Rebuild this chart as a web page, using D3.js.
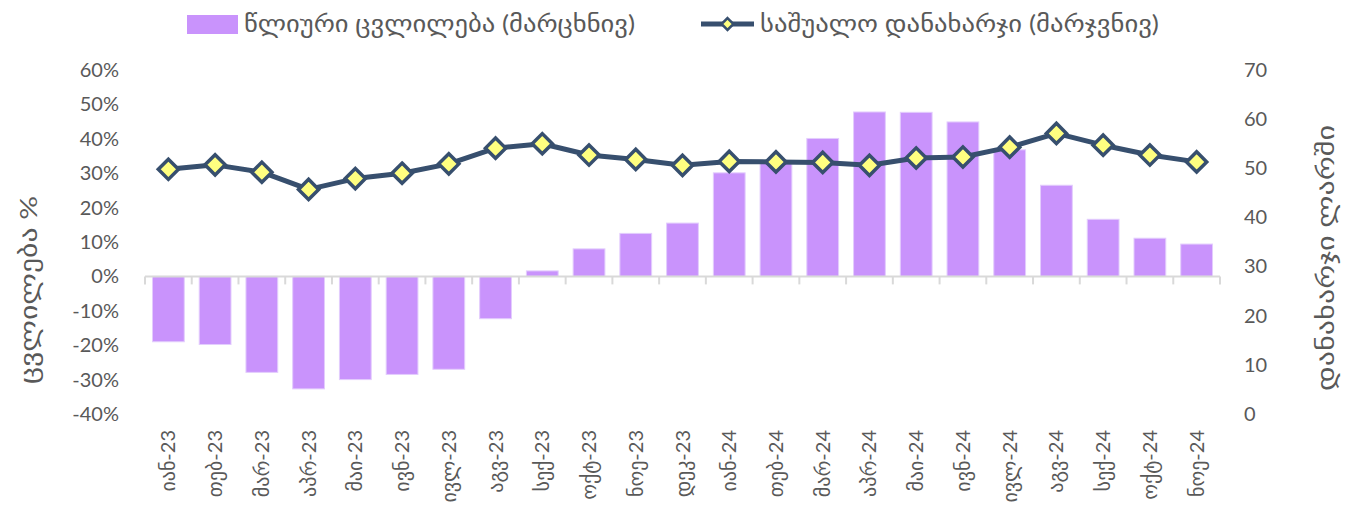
<!DOCTYPE html>
<html><head><meta charset="utf-8">
<script src="https://cdn.jsdelivr.net/npm/d3@7"></script>
<style>body{margin:0;background:#fff;}svg{display:block;}</style>
</head><body><svg id="c" width="1346" height="527"></svg>
<script>
const categories = ["იან-23","თებ-23","მარ-23","აპრ-23","მაი-23","ივნ-23","ივლ-23","აგვ-23","სექ-23","ოქტ-23","ნოე-23","დეკ-23",
  "იან-24","თებ-24","მარ-24","აპრ-24","მაი-24","ივნ-24","ივლ-24","აგვ-24","სექ-24","ოქტ-24","ნოე-24"];
const changePct = [-19.0,-19.8,-27.9,-32.7,-30.0,-28.5,-27.0,-12.3,1.6,8.0,12.5,15.5,
  30.1,33.5,40.1,47.8,47.7,44.9,36.8,26.5,16.6,11.1,9.4];
const avgSpend = [49.8,50.7,49.2,45.7,47.9,49.0,50.9,54.1,55.0,52.7,51.8,50.6,
  51.4,51.3,51.2,50.6,52.1,52.3,54.3,57.1,54.7,52.7,51.3];
const leftTicks = [-40,-30,-20,-10,0,10,20,30,40,50,60];
const rightTicks = [0,10,20,30,40,50,60,70];
const seriesNames = ["წლიური ცვლილება (მარცხნივ)","საშუალო დანახარჯი (მარჯვნივ)"];
const axisTitles = ["ცვლილება %","დანახარჯი ლარში"];

const FONT = "Lato, 'DejaVu Sans', sans-serif";
const TXT = "#595959";
const BAR = "#c993fc";
const LINE = "#374f6e";
const MARK = "#ffff80";

const svg = d3.select("#c").style("font-family", FONT);
const plot = {left:145, right:1220, top:70, bottom:414};

const x = d3.scaleBand().domain(categories).range([plot.left, plot.right]).paddingInner(0.32).paddingOuter(0.16);
const xEdge = d3.scaleBand().domain(categories).range([plot.left, plot.right]).padding(0);
const yL = d3.scaleLinear().domain([-40,60]).range([plot.bottom, plot.top]);
const yR = d3.scaleLinear().domain([0,70]).range([plot.bottom, plot.top]);

// bars
svg.append("g").selectAll("rect").data(categories).join("rect")
  .attr("x", d => x(d))
  .attr("width", x.bandwidth())
  .attr("y", (d,i) => Math.min(yL(changePct[i]), yL(0)))
  .attr("height", (d,i) => Math.abs(yL(changePct[i]) - yL(0)))
  .attr("fill", BAR)
  .attr("stroke", "#e3cdfd").attr("stroke-width", 1);

// x axis line with boundary ticks
const axisG = svg.append("g").attr("transform", `translate(0,${yL(0)})`);
axisG.append("line").attr("x1", plot.left).attr("x2", plot.right).attr("y1",0).attr("y2",0)
  .attr("stroke", "#d9d9d9").attr("stroke-width", 2);
const edges = categories.map(c => xEdge(c)).concat([plot.right]);
axisG.selectAll("line.t").data(edges).join("line").attr("class","t")
  .attr("x1", d=>d).attr("x2", d=>d).attr("y1",0).attr("y2",8)
  .attr("stroke", "#d9d9d9").attr("stroke-width", 2);

// x labels (rotated)
svg.append("g").selectAll("text").data(categories).join("text")
  .attr("transform", d => `translate(${xEdge(d)+xEdge.bandwidth()/2+7},430) rotate(-90)`)
  .attr("text-anchor","end")
  .attr("font-size", 20).attr("fill", TXT)
  .text(d => d);

// left y ticks
const yLAxis = d3.axisLeft(yL).tickValues(leftTicks).tickFormat(d => d + "%").tickSize(0).tickPadding(0);
const gL = svg.append("g").attr("transform", `translate(119,0)`).call(yLAxis);
gL.select(".domain").remove();
gL.selectAll("text").attr("font-size", 20).attr("fill", TXT).attr("font-family", FONT);

// right y ticks
const yRAxis = d3.axisRight(yR).tickValues(rightTicks).tickSize(0).tickPadding(0);
const gR = svg.append("g").attr("transform", `translate(1244,0)`).call(yRAxis);
gR.select(".domain").remove();
gR.selectAll("text").attr("font-size", 20).attr("fill", TXT).attr("font-family", FONT);

// axis titles
svg.append("text").attr("transform","translate(37,290) rotate(-90)").attr("text-anchor","middle")
  .attr("font-size", 23).attr("fill", TXT)
  .attr("textLength", 188).attr("lengthAdjust","spacingAndGlyphs").text(axisTitles[0]);
svg.append("text").attr("transform","translate(1334,258) rotate(-90)").attr("text-anchor","middle")
  .attr("font-size", 23).attr("fill", TXT)
  .attr("textLength", 266).attr("lengthAdjust","spacingAndGlyphs").text(axisTitles[1]);

// line
const cx = d => xEdge(d) + xEdge.bandwidth()/2;
const line = d3.line().x((d,i)=>cx(categories[i])).y(d=>yR(d));
svg.append("path").datum(avgSpend).attr("d", line).attr("fill","none")
  .attr("stroke", LINE).attr("stroke-width", 5).attr("stroke-linejoin","round");

const diamond = d3.symbol().type(d3.symbolDiamond2).size(260);
svg.append("g").selectAll("path").data(avgSpend).join("path")
  .attr("d", diamond)
  .attr("transform", (d,i) => `translate(${cx(categories[i])},${yR(d)})`)
  .attr("fill", MARK).attr("stroke", LINE).attr("stroke-width", 3.5);

// legend
const lg = svg.append("g");
lg.append("rect").attr("x",187).attr("y",15).attr("width",51).attr("height",19).attr("fill",BAR);
lg.append("text").attr("x",244).attr("y",32).attr("font-size",23).attr("fill",TXT)
  .attr("textLength", 391).attr("lengthAdjust","spacingAndGlyphs").text(seriesNames[0]);
lg.append("line").attr("x1",701).attr("x2",754).attr("y1",24).attr("y2",24)
  .attr("stroke",LINE).attr("stroke-width",5);
lg.append("path").attr("d", d3.symbol().type(d3.symbolDiamond2).size(90))
  .attr("transform","translate(727.5,24)").attr("fill",MARK).attr("stroke",LINE).attr("stroke-width",2.5);
lg.append("text").attr("x",760).attr("y",32).attr("font-size",23).attr("fill",TXT)
  .attr("textLength", 399).attr("lengthAdjust","spacingAndGlyphs").text(seriesNames[1]);
</script>
</body></html>
